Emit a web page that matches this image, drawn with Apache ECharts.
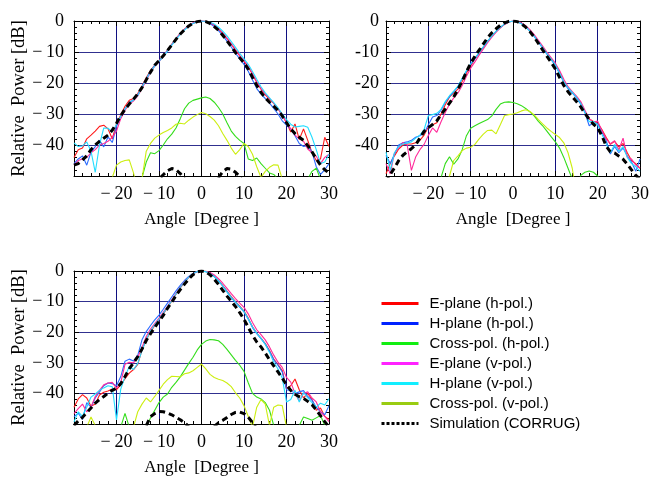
<!DOCTYPE html>
<html>
<head>
<meta charset="utf-8">
<script src="https://cdn.jsdelivr.net/npm/echarts/dist/echarts.min.js"></script>
<style>
  html, body { margin: 0; padding: 0; background: #fff; }
  #chart { width: 652px; height: 477px; }
</style>
</head>
<body>
<div id="chart"></div>
<script>
// angles in degrees, one value per degree from -30 to 30
const ANGLES = [
  -30, -29, -28, -27, -26, -25, -24, -23, -22, -21,
  -20, -19, -18, -17, -16, -15, -14, -13, -12, -11,
  -10, -9, -8, -7, -6, -5, -4, -3, -2, -1,
  0, 1, 2, 3, 4, 5, 6, 7, 8, 9,
  10, 11, 12, 13, 14, 15, 16, 17, 18, 19,
  20, 21, 22, 23, 24, 25, 26, 27, 28, 29,
  30]

const X_TICKS = [-30, -20, -10, 0, 10, 20, 30]
const Y_TICKS = [-50, -40, -30, -20, -10, 0]

const NAMES = ['E-plane (h-pol.)', 'H-plane (h-pol.)', 'Cross-pol. (h-pol.)',
  'E-plane (v-pol.)', 'H-plane (v-pol.)', 'Cross-pol. (v-pol.)', 'Simulation (CORRUG)']

// ---- upper left plot ----
const e1h = [
  -44, -41.5, -41, -38, -36.8, -35.5, -34, -33.6, -34.8, -38,
  -33.2, -30.3, -27.5, -25.6, -25.0, -23.4, -21, -18.3, -16, -14.2,
  -12.8, -11.2, -9.4, -7.5, -5.7, -4.0, -2.6, -1.5, -0.7, -0.2,
  0, -0.1, -0.6, -1.4, -2.6, -4.0, -5.7, -7.5, -9.4, -11.3,
  -13.0, -14.8, -17.2, -19.8, -22.0, -23.8, -25.2, -26.6, -28.3, -30.3,
  -32.8, -35.8, -33.2, -38.2, -34.8, -38.5, -42.5, -45, -44.5, -37.5,
  -40.5]
const h1h = [
  -46, -44.5, -43.5, -46.5, -42.3, -40.5, -38.5, -40.6, -37.4, -39.2,
  -34, -30.8, -28.3, -26.3, -25.4, -23.8, -21.3, -18.6, -16.2, -14.3,
  -12.9, -11.3, -9.5, -7.6, -5.8, -4.1, -2.7, -1.5, -0.7, -0.2,
  0, -0.2, -0.8, -1.8, -3.1, -4.7, -6.5, -8.4, -10.4, -12.2,
  -14.0, -16.2, -19.0, -21.8, -23.6, -25.0, -26.5, -28.2, -30.0, -32.2,
  -33.6, -34.8, -37.0, -39.5, -40.5, -40.2, -42.3, -47, -49.5, -48,
  -46]
const x1h = [
  null, null, null, null, null, null, null, null, null, null,
  null, null, null, null, null, -55, -50.5, -45.5, -42.5, -42.8,
  -41.8, -40, -38, -36.5, -34.5, -31.5, -28.3, -26.5, -25.6, -25.2,
  -24.8, -24.5, -25, -26.2, -27.9, -30, -32.8, -35.5, -37.2, -38.5,
  -39.5, -44.5, -45, -44.2, -46, -47.5, -49, -49.5, -51, null,
  null, null, null, null, -55, -51, -48.5, -47.5, -51, null,
  null]
const e1v = [
  -46.5, -45, -44.5, -44, -42.5, -41.5, -40, -39.5, -38.8, -37.5,
  -35.5, -31.5, -28.8, -26.8, -25.8, -24.2, -21.8, -19.2, -16.6, -14.6,
  -13.1, -11.5, -9.6, -7.7, -5.8, -4.1, -2.7, -1.5, -0.6, -0.1,
  0, -0.1, -0.5, -1.3, -2.4, -3.8, -5.5, -7.3, -9.2, -11.1,
  -12.8, -14.6, -17.0, -19.6, -21.8, -23.6, -25.0, -26.5, -28.3, -30.5,
  -32.8, -34.8, -36.8, -38, -38.8, -41.3, -42.5, -43.6, -46, -44,
  -43]
const h1v = [
  -39.3, -40.5, -40.3, -39, -42, -48.8, -40, -34.5, -34.6, -35.8,
  -33.4, -30.8, -28.4, -26.5, -25.5, -24, -21.4, -18.8, -16.4, -14.5,
  -13, -11.5, -9.7, -7.8, -6.0, -4.3, -2.9, -1.7, -0.8, -0.2,
  0, -0.1, -0.4, -1.0, -2.0, -3.3, -4.8, -6.6, -8.5, -10.4,
  -12.2, -14.0, -16.3, -18.8, -21.2, -23.2, -24.8, -26.3, -28, -30,
  -31.8, -33.3, -34.2, -34.0, -33.8, -34.3, -37.5, -41.5, -46, -45.5,
  -43]
const x1v = [
  null, null, null, null, null, null, null, null, null, -50.5,
  -46.5, -45.5, -45, -44.8, -49, -55, -51, -42, -39.5, -37.8,
  -36.8, -36, -35.3, -34.5, -33.3, -33, -33.2, -32, -31, -30.2,
  -29.5, -29.9, -30.8, -32, -33.8, -36.3, -38.5, -41, -43, -41.5,
  -39.5, -40.5, -43, -47, -50.5, -48.5, -47.2, -46.4, -46.5, -51,
  null, null, null, null, null, null, null, null, null, null,
  null]
const s1 = [
  -46.5, -46, -44.8, -43.5, -41.5, -40, -38.8, -37.8, -36.8, -35.2,
  -33, -30.5, -28.5, -26.8, -25.2, -23.5, -21.5, -19, -16.5, -14.3,
  -12.8, -11.2, -9.5, -7.7, -5.9, -4.2, -2.8, -1.6, -0.7, -0.2,
  0, -0.2, -0.8, -1.8, -3.0, -4.6, -6.4, -8.3, -10.2, -11.9,
  -13.5, -15.5, -18.2, -20.8, -23, -24.8, -26.2, -27.5, -28.8, -30.6,
  -32.8, -34.8, -36.3, -37.5, -38.5, -40.2, -42.2, -44.5, -46.5, -48,
  -49]
const sx1 = [
  null, null, null, null, null, null, null, null, null, null,
  null, null, null, null, null, null, null, null, null, -53,
  -51, -49.6, -48.3, -47.6, -48, -49.2, -51, -54, null, null,
  null, null, null, -53.5, -50.5, -48.6, -47.6, -47.8, -48.8, -50.2,
  -52.5, null, null, null, null, null, null, null, null, null,
  null, null, null, null, null, null, null, null, null, null,
  null]

// ---- upper right plot ----
const e2h = [
  -49.3, -46, -43.5, -41.3, -40, -39.7, -39.7, -39.3, -38.5, -36.8,
  -34.2, -33.5, -32.8, -30.0, -27.0, -24.5, -23.2, -22.0, -19.5, -16.8,
  -14.5, -12.2, -10.2, -8.4, -6.6, -4.9, -3.4, -2.1, -1.1, -0.3,
  0, -0.2, -0.8, -1.8, -3.2, -4.8, -6.6, -8.5, -10.4, -12.2,
  -14.0, -16.6, -19.6, -21.6, -23.0, -24.5, -26.5, -29.3, -31.6, -32.4,
  -33.0, -35.0, -37.5, -39.8, -38.8, -40.6, -39.5, -42.5, -45.0, -46.0,
  -47.5]
const h2h = [
  -43.4, -46, -43, -40, -39.3, -39, -38.5, -37.5, -37, -36.2,
  -33.5, -31, -30.5, -28.8, -26.2, -24.4, -22.8, -21.2, -18.6, -16.2,
  -14.0, -12.2, -10.3, -8.4, -6.6, -4.9, -3.4, -2.1, -1.0, -0.3,
  0, -0.2, -0.9, -1.9, -3.3, -5.0, -6.8, -8.8, -10.7, -12.5,
  -14.3, -17.0, -19.8, -21.8, -23.2, -24.8, -26.8, -29.6, -33.8, -32.8,
  -33.2, -35.8, -38.5, -42.9, -40.5, -42.5, -41.0, -43.5, -45.5, -48.5,
  -44.5]
const x2h = [
  null, null, null, null, null, null, null, null, null, null,
  null, null, null, -50.5, -46, -43.8, -46.2, -44.5, -41.5, -37,
  -34.6, -33.8, -33.1, -32.4, -31.8, -30.6, -28.5, -26.8, -26.2, -26.1,
  -26.3, -26.7, -27.3, -28.2, -29.3, -30.6, -32.4, -33.8, -35.5, -37.3,
  -39, -41, -44, -47.5, -51, -55, -49.8, -48.8, -48.4, -48.8,
  -50, -52, null, null, null, null, null, null, null, null,
  null]
const e2v = [
  -46, -49.3, -42.5, -41, -39.2, -40, -48.2, -43.9, -41.5, -39.8,
  -36.9, -34.5, -35.9, -32.5, -29.5, -26.8, -24.8, -23.2, -20.8, -17.8,
  -15.2, -13.2, -11.0, -9.0, -7.0, -5.2, -3.6, -2.2, -1.1, -0.3,
  0, -0.1, -0.6, -1.5, -2.8, -4.4, -6.2, -8.1, -10.0, -11.8,
  -13.6, -16.0, -18.8, -21.2, -22.8, -24.2, -26.0, -28.8, -31.5, -32.6,
  -32.3, -35.3, -38.0, -39.6, -38.6, -41.6, -37.8, -44.0, -44.5, -46.5,
  -47.5]
const h2v = [
  -42.3, -48.2, -42.5, -40.5, -39.7, -39.4, -39, -37.8, -36.8, -35,
  -30.5, -30.2, -29.8, -28.5, -26, -24.1, -22.6, -21.0, -18.5, -16.0,
  -13.8, -12.0, -10.1, -8.3, -6.5, -4.8, -3.3, -2.0, -1.0, -0.3,
  0, -0.2, -0.9, -1.9, -3.3, -4.9, -6.7, -8.6, -10.5, -12.3,
  -14.1, -16.8, -19.6, -21.6, -23.0, -24.6, -26.6, -29.4, -32.5, -32.4,
  -33.5, -36.5, -39.5, -42.5, -39.8, -42.0, -40.5, -44.0, -46.0, -47.0,
  -48.5]
const x2v = [
  null, null, null, null, null, null, null, null, null, null,
  null, null, null, null, -52, -50, -45, -43.5, -41.8, -41,
  -40.7, -39.8, -38, -36.5, -35.3, -35.2, -36.4, -33.5, -30.5, -30.2,
  -30, -29.6, -29.0, -28.6, -29.2, -30.3, -31.8, -33.2, -34.5, -35.6,
  -36.6, -37.6, -39.3, -42.5, -47.5, -56, null, null, null, null,
  null, null, null, null, null, null, null, null, null, null,
  null]
const s2 = [
  -52, -49.5, -47.4, -45, -43.3, -42.2, -41.2, -40, -37.8, -35.6,
  -34.4, -33.4, -32.2, -30.2, -28.4, -26.5, -24.5, -22.0, -19.4, -16.4,
  -13.6, -11.4, -9.4, -7.4, -5.4, -3.8, -2.5, -1.4, -0.6, -0.1,
  0, -0.2, -0.9, -2.0, -3.4, -5.2, -7.2, -9.3, -11.3, -13.3,
  -15.5, -18.2, -20.8, -22.8, -24.4, -26.0, -27.7, -29.8, -31.7, -33.3,
  -34.5, -37.0, -40.3, -42.2, -42.6, -43.6, -44.6, -46.2, -48.0, -49.8,
  -51]
const sx2 = ANGLES.map(() => null)

// ---- lower left plot ----
const e3h = [
  -44.5, -41.8, -40.4, -41.5, -44.2, -43.5, -40.5, -39.6, -39.2, -38.6,
  -38.8, -37.2, -35.2, -33.4, -32.2, -30.5, -25.8, -22.5, -20.0, -17.8,
  -16.0, -14.0, -12.0, -9.8, -7.6, -5.5, -3.7, -2.1, -0.9, -0.2,
  0, -0.1, -0.7, -1.7, -3.1, -4.8, -6.6, -8.4, -10.0, -11.5,
  -13.1, -15.4, -18.2, -20.3, -21.9, -23.7, -26.0, -28.8, -30.6, -32.5,
  -38.5, -37.5, -35.3, -38.8, -41.5, -40, -42, -45.5, -44.8, -47.5,
  -48.5]
const h3h = [
  -47.6, -46.5, -48.5, -43, -44.5, -41.5, -39.5, -37.5, -36.6, -36.8,
  -37.5, -34.5, -29.5, -28.8, -29.4, -27.6, -22.5, -19.8, -17.8, -16.0,
  -14.4, -12.5, -10.5, -8.5, -6.5, -4.7, -3.1, -1.8, -0.8, -0.2,
  0, -0.2, -0.8, -1.8, -3.2, -4.9, -6.8, -8.7, -10.3, -11.8,
  -13.4, -15.8, -18.5, -20.5, -22.1, -23.9, -26.2, -29.0, -30.8, -33.0,
  -38.8, -39.1, -40.0, -39.5, -39.1, -41.0, -42.2, -44.5, -46.0, -47.0,
  -44.0]
const x3h = [
  null, null, null, null, null, null, null, null, null, null,
  null, -51, -46.5, -51, null, null, null, -51, -48, -45.5,
  -43, -41.2, -40.2, -38, -36.4, -34.6, -32.4, -30.2, -28.2, -25.8,
  -24.0, -22.9, -22.4, -22.5, -22.8, -24.0, -25.6, -27.4, -29.2, -30.8,
  -32.8, -36.5, -40.0, -41.2, -41.8, -43.0, -45.5, -50.5, null, null,
  null, null, null, -50.5, -47.7, -48.2, -48.8, -48, -47.2, -50.5,
  null]
const e3v = [
  -46.6, -45, -43.5, -46, -44.5, -41, -39, -37.2, -36.6, -36.4,
  -38.3, -36.5, -30.5, -29.8, -30.0, -28.2, -25.0, -21.4, -19.0, -17.2,
  -15.4, -13.5, -11.5, -9.4, -7.3, -5.3, -3.5, -2.0, -0.9, -0.2,
  0, -0.1, -0.5, -1.3, -2.5, -4.0, -5.7, -7.4, -9.0, -10.5,
  -11.9, -14.0, -16.8, -19.2, -20.8, -22.5, -24.8, -27.5, -29.8, -31.5,
  -34.8, -36.3, -40, -42.5, -40, -39.5, -41.5, -42.8, -46, -47.5,
  -49.2]
const h3v = [
  -49.3, -46, -47.5, -44.5, -41.2, -40.2, -39, -38.2, -37.5, -37.8,
  -48.7, -38.6, -34.5, -31.2, -32.2, -30.2, -26.0, -22.4, -19.6, -17.6,
  -15.8, -13.9, -11.8, -9.7, -7.5, -5.4, -3.6, -2.0, -0.9, -0.2,
  0, -0.2, -0.8, -1.8, -3.2, -4.9, -6.8, -8.6, -10.2, -11.7,
  -13.3, -15.6, -18.3, -20.4, -22.0, -24.0, -26.6, -29.8, -32.0, -35.0,
  -42.8, -42.0, -39.0, -42.8, -39.7, -41.5, -43, -44.5, -43.2, -43.8,
  -41.7]
const x3v = [
  null, null, null, -51, -47.7, -50.5, null, null, null, null,
  null, null, null, null, -51, -46, -43.5, -41.5, -42.8, -41,
  -39, -37, -35.5, -34.4, -34.5, -34.6, -33.6, -33.3, -32.6, -31.5,
  -30.4, -32, -33.8, -34.8, -35.4, -35.8, -36.6, -37.8, -39.8, -41.5,
  -44, -47.5, -51, -44.5, -42, -43.5, -50.5, -44.5, -43.8, -44,
  -51, null, null, null, null, null, null, null, null, null,
  null]
const s3 = [
  -50.5, -49, -47.8, -46.3, -44.8, -43.2, -42, -41, -39.9, -39,
  -38.3, -36.8, -34.5, -32, -30, -28, -25.5, -22.7, -20.5, -18.4,
  -16.5, -14.5, -12.2, -10.2, -8.0, -6.1, -4.3, -2.6, -1.2, -0.3,
  0, -0.3, -1.2, -2.7, -4.4, -6.3, -8.2, -9.9, -11.6, -13.6,
  -15.8, -18.4, -21.0, -23.2, -24.8, -26.8, -29.0, -31.0, -33.0, -35.0,
  -37.2, -39, -40.3, -41.1, -41.6, -42.6, -43.7, -45.4, -47.3, -49.2,
  -51]
const sx3 = [
  null, null, null, null, null, null, null, null, null, null,
  null, null, null, null, null, null, null, -50.5, -47.6, -46.6,
  -45.9, -46.0, -46.4, -47.0, -47.8, -48.6, -49.6, -50.8, null, null,
  null, null, null, -50.8, -49.6, -48.8, -47.9, -46.9, -46.2, -46.1,
  -46.6, -47.8, -49.5, -51.5, null, null, null, null, null, null,
  null, null, null, null, null, null, null, null, null, null,
  null]

const PLOTS = [
  [e1h, h1h, x1h, e1v, h1v, x1v, s1, sx1],
  [e2h, h2h, x2h, e2v, h2v, x2v, s2, sx2],
  [e3h, h3h, x3h, e3v, h3v, x3v, s3, sx3]
]

var chart = echarts.init(document.getElementById('chart'), null, { renderer: 'canvas' })

var lineColors = ['#ff1a1a', '#2a6cff', '#33dd1a', '#ff2a9a', '#22ddff', '#ccee11', '#000000', '#000000']
var legendColors = ['#ff0000', '#0022ff', '#11ee11', '#ff22ff', '#11eeff', '#99cc11', '#000000']

var boxes = [
  { left: 74, top: 21, width: 255, height: 155, yName: true, minus: '\u2212\u2009' },
  { left: 386, top: 21, width: 255, height: 155, yName: false, minus: '-' },
  { left: 74, top: 271, width: 255, height: 155, yName: true, minus: '\u2212\u2009' }
]

var serif = 'Liberation Serif'
var tickStyle = { show: true, inside: true, length: 5, lineStyle: { color: '#000', width: 1 } }
var minorStyle = { show: true, splitNumber: 5, length: 3, lineStyle: { color: '#000', width: 1 } }
var frameLine = { show: true, onZero: false, lineStyle: { color: '#000', width: 1 } }

var grids = []
var xAxes = []
var yAxes = []
var series = []

boxes.forEach(function (b, i) {
  grids.push({ left: b.left, top: b.top, width: b.width, height: b.height, containLabel: false })
  xAxes.push({ // bottom, with labels and grid lines
    type: 'value', gridIndex: i, position: 'bottom', min: -30, max: 30, interval: 10,
    axisLine: frameLine, axisTick: tickStyle, minorTick: minorStyle,
    axisLabel: {
      margin: 9, color: '#000', fontFamily: serif, fontSize: 18,
      formatter: function (v) { return v === X_TICKS[0] ? '' : (v < 0 ? '\u2212\u2009' + (-v) : String(v)) }
    },
    splitLine: {
      show: true,
      lineStyle: { color: ['#101080', '#101080', '#101080', '#000000', '#101080', '#101080', '#101080'], width: 1 }
    },
    name: 'Angle  [Degree ]', nameLocation: 'middle', nameGap: 35,
    nameTextStyle: { color: '#000', fontFamily: serif, fontSize: 17 }
  })
  xAxes.push({ // top frame edge
    type: 'value', gridIndex: i, position: 'top', min: -30, max: 30, interval: 10,
    axisLine: frameLine, axisTick: tickStyle, minorTick: minorStyle,
    axisLabel: { show: false }, splitLine: { show: false }
  })
  yAxes.push({
    type: 'value', gridIndex: i, position: 'left', min: -50, max: 0, interval: 10,
    axisLine: frameLine, axisTick: tickStyle, minorTick: minorStyle,
    axisLabel: {
      margin: i === 1 ? 7 : 10, color: '#000', fontFamily: serif, fontSize: 18,
      formatter: function (v) { return v === Y_TICKS[0] ? '' : (v < 0 ? b.minus + (-v) : String(v)) }
    },
    splitLine: { show: true, lineStyle: { color: '#30308f', width: 1.2 } },
    name: b.yName ? 'Relative  Power [dB]' : '', nameLocation: 'middle', nameGap: 45,
    nameTextStyle: { color: '#000', fontFamily: serif, fontSize: 18.5 }
  })
  yAxes.push({
    type: 'value', gridIndex: i, position: 'right', min: -50, max: 0, interval: 10,
    axisLine: frameLine, axisTick: tickStyle, minorTick: minorStyle,
    axisLabel: { show: false }, splitLine: { show: false }
  })

  PLOTS[i].forEach(function (ys, k) {
    var isSim = k >= 6
    series.push({
      name: NAMES[Math.min(k, 6)],
      type: 'line',
      xAxisIndex: 2 * i,
      yAxisIndex: 2 * i,
      data: ANGLES.map(function (a, j) { return [a, ys[j] === null ? '-' : ys[j]] }),
      symbol: 'none',
      showSymbol: false,
      connectNulls: false,
      clip: true,
      silent: true,
      color: lineColors[k],
      lineStyle: isSim ? { color: '#000', width: 3, type: [6, 4] } : { color: lineColors[k], width: 1.1 },
      z: 2 + k
    })
  })
})

chart.setOption({
  animation: false,
  backgroundColor: '#fff',
  grid: grids,
  xAxis: xAxes,
  yAxis: yAxes,
  legend: {
    orient: 'vertical',
    left: 380,
    top: 296,
    padding: 0,
    itemWidth: 37,
    itemHeight: 14,
    itemGap: 5,
    selectedMode: false,
    textStyle: { color: '#000', fontFamily: 'Liberation Sans', fontSize: 15, padding: [0, 0, 0, 6] },
    data: NAMES.map(function (n, k) {
      return {
        name: n,
        itemStyle: { opacity: 0 },
        lineStyle: k === 6
          ? { color: '#000', width: 3, type: [3, 2], opacity: 1 }
          : { color: legendColors[k], width: 3, opacity: 1 }
      }
    })
  },
  series: series
})
</script>
</body>
</html>
